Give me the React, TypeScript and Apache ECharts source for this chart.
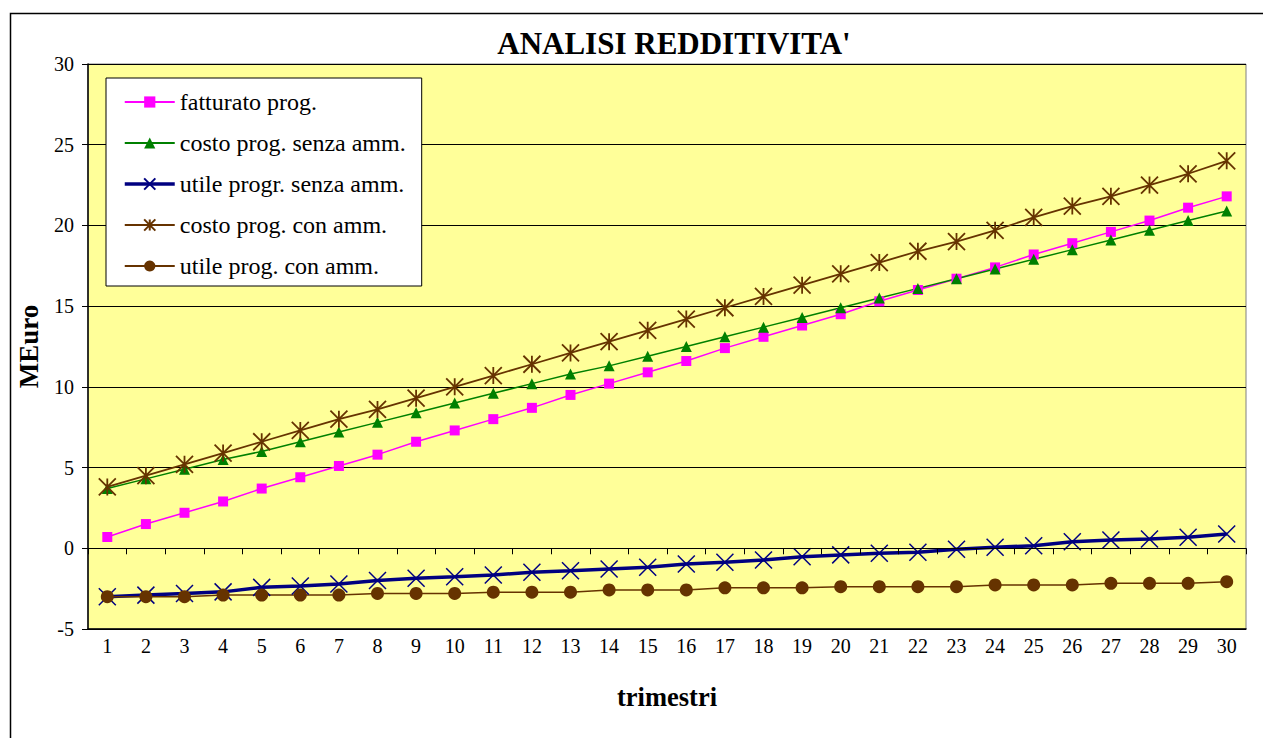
import React, { useEffect, useRef } from "react";
import * as echarts from "echarts";

const categories = Array.from({ length: 30 }, (_, i) => String(i + 1));

const fatturato = [0.7, 1.5, 2.2, 2.9, 3.7, 4.4, 5.1, 5.8, 6.6, 7.3, 8.0, 8.7, 9.5, 10.2, 10.9, 11.6, 12.4, 13.1, 13.8, 14.5, 15.3, 16.0, 16.7, 17.4, 18.2, 18.9, 19.6, 20.3, 21.1, 21.8];
const costoSenza = [3.7, 4.3, 4.9, 5.5, 6.0, 6.6, 7.2, 7.8, 8.4, 9.0, 9.6, 10.2, 10.8, 11.3, 11.9, 12.5, 13.1, 13.7, 14.3, 14.9, 15.5, 16.1, 16.7, 17.3, 17.9, 18.5, 19.1, 19.7, 20.3, 20.9];
const utileSenza = [-3.0, -2.9, -2.8, -2.7, -2.42, -2.34, -2.21, -2.0, -1.86, -1.76, -1.65, -1.49, -1.39, -1.28, -1.18, -0.97, -0.87, -0.72, -0.52, -0.41, -0.31, -0.25, -0.06, 0.06, 0.16, 0.41, 0.51, 0.58, 0.68, 0.89];
const costoCon = [3.8, 4.5, 5.2, 5.9, 6.6, 7.3, 8.0, 8.6, 9.3, 10.0, 10.7, 11.4, 12.1, 12.8, 13.5, 14.2, 14.9, 15.6, 16.3, 17.0, 17.7, 18.4, 19.0, 19.7, 20.5, 21.2, 21.8, 22.5, 23.2, 24.0];
const utileCon = [-3.0, -3.0, -3.0, -2.9, -2.9, -2.9, -2.9, -2.8, -2.8, -2.8, -2.72, -2.72, -2.72, -2.58, -2.58, -2.58, -2.45, -2.45, -2.45, -2.38, -2.38, -2.38, -2.38, -2.27, -2.27, -2.27, -2.17, -2.17, -2.17, -2.07];

const seriesNames = [
  "fatturato prog.",
  "costo prog. senza amm.",
  "utile progr. senza amm.",
  "costo prog. con amm.",
  "utile prog. con amm.",
];

const yTicks = { min: -5, max: 30, interval: 5 };

const FONT = "'Liberation Serif', 'Times New Roman', serif";
const CROSS = "path://M0,0 L10,10 M10,0 L0,10";
const STAR = "path://M0,0 L10,10 M10,0 L0,10 M5,0 L5,10";

export default function App() {
  const ref = useRef<HTMLDivElement>(null);
  useEffect(() => {
    if (!ref.current) return;
    const chart = echarts.init(ref.current, undefined, { renderer: "svg" });
    chart.setOption({
      animation: false,
      backgroundColor: "#ffffff",
      title: {
        text: "ANALISI REDDITIVITA'",
        left: 669,
        textAlign: "center",
        top: 23,
        textStyle: { fontFamily: FONT, fontSize: 31, fontWeight: "bold", color: "#000" },
      },
      graphic: [
        {
          type: "rect",
          shape: { x: 10.5, y: 13.5, width: 1300, height: 800 },
          style: { fill: "none", stroke: "#000", lineWidth: 1.5 },
          silent: true,
        },
      ],
      legend: {
        orient: "vertical",
        left: 106,
        top: 78,
        padding: [12, 16, 8, 17],
        itemGap: 17,
        itemWidth: 50,
        itemHeight: 14,
        backgroundColor: "#ffffff",
        borderColor: "#000",
        borderWidth: 1,
        textStyle: { fontFamily: FONT, fontSize: 24, color: "#000", lineHeight: 23 },
        data: [
          { name: seriesNames[0] },
          { name: seriesNames[1] },
          { name: seriesNames[2], lineStyle: { width: 3.5 } },
          { name: seriesNames[3] },
          { name: seriesNames[4] },
        ],
      },
      grid: {
        left: 88,
        top: 64,
        width: 1158,
        height: 565,
        show: true,
        backgroundColor: "#FFFF99",
        borderColor: "#808080",
        borderWidth: 1,
      },
      xAxis: [
        {
          type: "category",
          data: categories,
          boundaryGap: true,
          axisLine: { onZero: true, lineStyle: { color: "#000", width: 1 } },
          axisTick: { show: true, length: 6, interval: 0, lineStyle: { color: "#000" } },
          axisLabel: { show: false },
          splitLine: { show: false },
          z: 5,
        },
        {
          type: "category",
          data: categories,
          position: "bottom",
          boundaryGap: true,
          axisLine: { onZero: false, lineStyle: { color: "#000", width: 1.5 } },
          axisTick: { show: false },
          axisLabel: { show: true, interval: 0, margin: 7, fontFamily: FONT, fontSize: 20, color: "#000" },
          name: "trimestri",
          nameLocation: "middle",
          nameGap: 54,
          nameTextStyle: { fontFamily: FONT, fontSize: 26.5, fontWeight: "bold", color: "#000" },
        },
      ],
      yAxis: {
        type: "value",
        min: yTicks.min,
        max: yTicks.max,
        interval: yTicks.interval,
        axisLine: { show: true, lineStyle: { color: "#000", width: 1.5 } },
        axisTick: { show: true, length: 6, lineStyle: { color: "#000" } },
        axisLabel: { margin: 14, fontFamily: FONT, fontSize: 20, color: "#000" },
        splitLine: { show: true, lineStyle: { color: "#000", width: 1 } },
        name: "MEuro",
        nameLocation: "middle",
        nameRotate: 90,
        nameGap: 46,
        nameTextStyle: { fontFamily: FONT, fontSize: 27, fontWeight: "bold", color: "#000" },
      },
      series: [
        {
          name: seriesNames[0],
          type: "line",
          data: fatturato,
          symbol: "rect",
          symbolSize: 10,
          lineStyle: { color: "#FF00FF", width: 1.5 },
          itemStyle: { color: "#FF00FF" },
          z: 3,
        },
        {
          name: seriesNames[1],
          type: "line",
          data: costoSenza,
          symbol: "triangle",
          symbolSize: 11,
          lineStyle: { color: "#008000", width: 1.5 },
          itemStyle: { color: "#008000" },
          z: 3,
        },
        {
          name: seriesNames[2],
          type: "line",
          data: utileSenza,
          symbol: CROSS,
          symbolSize: 17,
          lineStyle: { color: "#000080", width: 3.5 },
          itemStyle: { color: "#000080", borderColor: "#000080", borderWidth: 1.5 },
          z: 3,
        },
        {
          name: seriesNames[3],
          type: "line",
          data: costoCon,
          symbol: STAR,
          symbolSize: 17,
          lineStyle: { color: "#663300", width: 1.8 },
          itemStyle: { color: "#663300", borderColor: "#663300", borderWidth: 1.8 },
          z: 3,
        },
        {
          name: seriesNames[4],
          type: "line",
          data: utileCon,
          symbol: "circle",
          symbolSize: 13,
          lineStyle: { color: "#663300", width: 1.5 },
          itemStyle: { color: "#663300" },
          z: 3,
        },
      ],
    });
    return () => chart.dispose();
  }, []);
  return (
    <div
      ref={ref}
      style={{ position: "fixed", left: 0, top: 0, width: 1263, height: 738 }}
    />
  );
}
